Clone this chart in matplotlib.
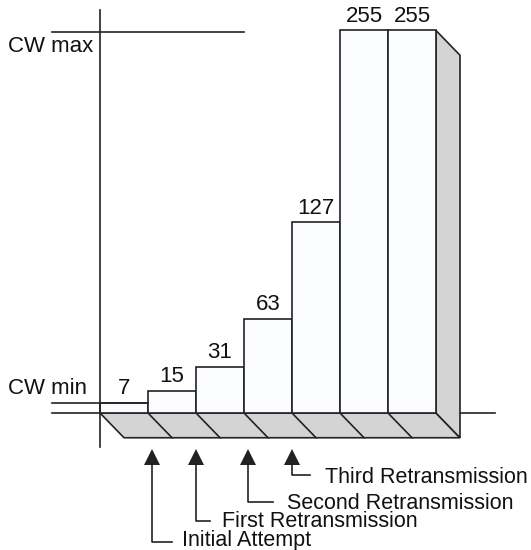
import matplotlib.pyplot as plt
from matplotlib.patches import Polygon

plt.rcParams['font.family'] = ['Liberation Sans', 'DejaVu Sans']

# contention window size per attempt
values = [7, 15, 31, 63, 127, 255, 255]
cw_min = 7
cw_max = 255

# arrows below the bars
events = ["Initial Attempt", "First Retransmission",
          "Second Retransmission", "Third Retransmission"]
event_x = [1.08, 2.0, 3.08, 4.0]
event_drop = [-86.0, -72.0, -59.3, -41.3]
event_base = [-88.7, -76.0, -64.0, -46.7]
event_elbow = [1.50, 2.29, 3.60, 4.38]
event_text = [1.71, 2.54, 3.90, 4.69]

ink = "#222222"
gray = "#d4d4d4"
face = "#fbfcff"
dx, dy = 0.5, -16.5   # 3D depth offset
lw = 1.2

fig = plt.figure(figsize=(5.31, 5.5), dpi=100)
ax = fig.add_axes([0, 0, 1, 1])
ax.set_xlim(-100 / 48, 431 / 48)
ax.set_ylim(-137 / 1.5, 413 / 1.5)
ax.axis("off")

n = len(values)

# floor slab and right side of the block
ax.add_patch(Polygon([(0, 0), (n, 0), (n + dx, dy), (dx, dy)],
                     closed=True, facecolor=gray, edgecolor=ink, lw=lw, zorder=2))
ax.add_patch(Polygon([(n, values[-1]), (n + dx, values[-1] + dy), (n + dx, dy), (n, 0)],
                     closed=True, facecolor=gray, edgecolor=ink, lw=lw, zorder=2))
for i in range(1, n):
    ax.plot([i, i + dx], [0, dy], color=ink, lw=lw, zorder=3)

# bars
ax.bar(range(n), values, width=1, align="edge", color=face,
       edgecolor=ink, linewidth=lw, zorder=3)
for i, v in enumerate(values):
    ax.text(i + 0.5, v + 2, str(v), ha="center", va="bottom", fontsize=16, color="#111111")

# axes lines
ax.plot([0, 0], [-22.7, 268.7], color=ink, lw=lw, zorder=4)
ax.plot([-1, 8.23], [0, 0], color=ink, lw=lw, zorder=1)
ax.plot([-1, 3], [cw_max - 1, cw_max - 1], color=ink, lw=lw, zorder=4)
ax.plot([-1, 1], [cw_min - 0.3, cw_min - 0.3], color=ink, lw=lw, zorder=4)
ax.text(-1.92, cw_max - 4, "CW max", ha="left", va="top", fontsize=16, color="#111111")
ax.text(-1.92, cw_min + 2.5, "CW min", ha="left", va="bottom", fontsize=16, color="#111111")

# event arrows
for x, lab, yd, yb, xe, xt in zip(event_x, events, event_drop, event_base,
                                  event_elbow, event_text):
    ax.plot([x, x, xe], [-30, yd, yd], color=ink, lw=lw)
    ax.plot(x, -29, marker="^", markersize=11, color=ink, markeredgewidth=0)
    ax.text(xt, yb, lab, ha="left", va="baseline", fontsize=15.5, color="#111111")

fig.savefig("out.png", dpi=100)
